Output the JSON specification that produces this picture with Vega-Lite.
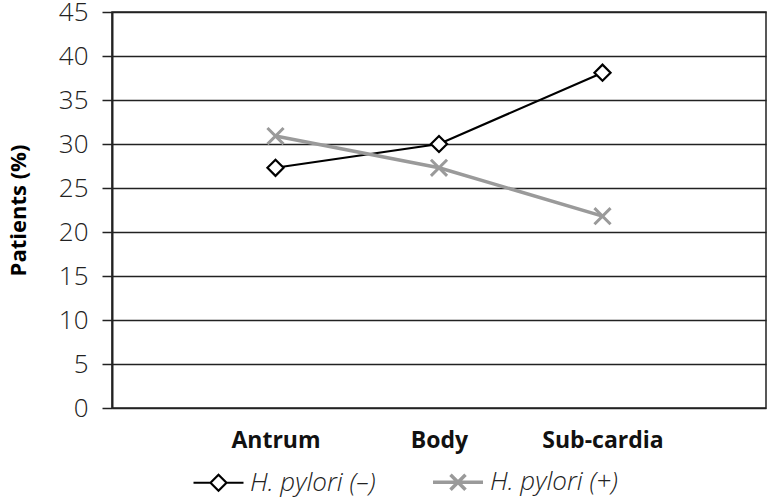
{
  "$schema": "https://vega.github.io/schema/vega-lite/v6.json",
  "autosize": "none",
  "width": 654,
  "height": 396,
  "padding": {"left": 112, "top": 12, "right": 1, "bottom": 92},
  "background": "white",
  "config": {
    "font": "Open Sans",
    "view": {"stroke": "#222", "strokeWidth": 1.5}
  },
  "data": {
    "values": [
      {"site": "Antrum", "series": "H. pylori (–)", "pct": 27.3},
      {"site": "Body", "series": "H. pylori (–)", "pct": 30.0},
      {"site": "Sub-cardia", "series": "H. pylori (–)", "pct": 38.1},
      {"site": "Antrum", "series": "H. pylori (+)", "pct": 30.9},
      {"site": "Body", "series": "H. pylori (+)", "pct": 27.3},
      {"site": "Sub-cardia", "series": "H. pylori (+)", "pct": 21.8}
    ]
  },
  "encoding": {
    "x": {
      "field": "site",
      "type": "nominal",
      "sort": ["Antrum", "Body", "Sub-cardia"],
      "scale": {"type": "point", "padding": 1},
      "axis": {
        "title": null,
        "labelAngle": 0,
        "domain": false,
        "ticks": false,
        "grid": false,
        "labelFont": "Open Sans",
        "labelFontSize": 23,
        "labelFontWeight": "bold",
        "labelColor": "#111",
        "labelPadding": 21,
        "labelBaseline": "top"
      }
    },
    "y": {
      "field": "pct",
      "type": "quantitative",
      "scale": {"domain": [0, 45], "nice": false},
      "axis": {
        "values": [0, 5, 10, 15, 20, 25, 30, 35, 40, 45],
        "title": "Patients (%)",
        "titleFont": "Open Sans",
        "titleFontSize": 22,
        "titleFontWeight": "bold",
        "titleColor": "#000",
        "titleX": -94,
        "titleY": 198,
        "titleAngle": -90,
        "titleAlign": "center",
        "titleBaseline": "middle",
        "labelFont": "Open Sans",
        "labelFontSize": 26,
        "labelFontWeight": 300,
        "labelColor": "#222",
        "labelPadding": 14,
        "tickSize": 10,
        "tickColor": "#222",
        "tickWidth": 1.5,
        "domainColor": "#222",
        "domainWidth": 2,
        "grid": true,
        "gridColor": "#222",
        "gridWidth": 1.5,
        "gridOpacity": 1
      }
    },
    "stroke": {
      "field": "series",
      "type": "nominal",
      "scale": {"domain": ["H. pylori (–)", "H. pylori (+)"], "range": ["#000000", "#9a9a9a"]},
      "legend": {
        "title": null,
        "orient": "none",
        "legendX": 80,
        "legendY": 443,
        "direction": "horizontal",
        "padding": 0,
        "symbolSize": 2500,
        "symbolStrokeWidth": 2.5,
        "labelFont": "Open Sans",
        "labelFontSize": 26,
        "labelFontStyle": "italic",
        "labelFontWeight": 300,
        "labelColor": "#222",
        "labelOffset": 5,
        "columnPadding": 50
      }
    }
  },
  "layer": [
    {
      "mark": {"type": "line"},
      "encoding": {
        "strokeWidth": {
          "field": "series",
          "type": "nominal",
          "scale": {"domain": ["H. pylori (–)", "H. pylori (+)"], "range": [2.2, 3.5]},
          "legend": null
        }
      }
    },
    {
      "transform": [{"filter": "datum.series === 'H. pylori (–)'"}],
      "mark": {"type": "point", "shape": "diamond", "filled": true, "fill": "white", "opacity": 1, "size": 260, "strokeWidth": 2.2}
    },
    {
      "transform": [{"filter": "datum.series === 'H. pylori (+)'"}],
      "mark": {"type": "point", "shape": "M-1,-1L1,1M-1,1L1,-1", "filled": true, "fill": "white", "opacity": 1, "size": 260, "strokeWidth": 3}
    },
    {
      "transform": [{"filter": "false"}],
      "mark": {"type": "point", "filled": true, "fill": "white", "opacity": 1, "size": 2500},
      "encoding": {
        "shape": {
          "field": "series",
          "type": "nominal",
          "scale": {
            "domain": ["H. pylori (–)", "H. pylori (+)"],
            "range": [
              "M-1,0H-0.32M0.32,0H1M-0.32,0L0,-0.32L0.32,0L0,0.32Z",
              "M-1,0H1M-0.3,-0.3L0.3,0.3M-0.3,0.3L0.3,-0.3"
            ]
          },
          "legend": {
            "title": null,
            "orient": "none",
            "legendX": 80,
            "legendY": 443,
            "direction": "horizontal",
            "padding": 0,
            "symbolSize": 2500,
            "symbolStrokeWidth": 2.5,
            "labelFont": "Open Sans",
            "labelFontSize": 26,
            "labelFontStyle": "italic",
            "labelFontWeight": 300,
            "labelColor": "#222",
            "labelOffset": 5,
            "columnPadding": 50
          }
        }
      }
    }
  ]
}
